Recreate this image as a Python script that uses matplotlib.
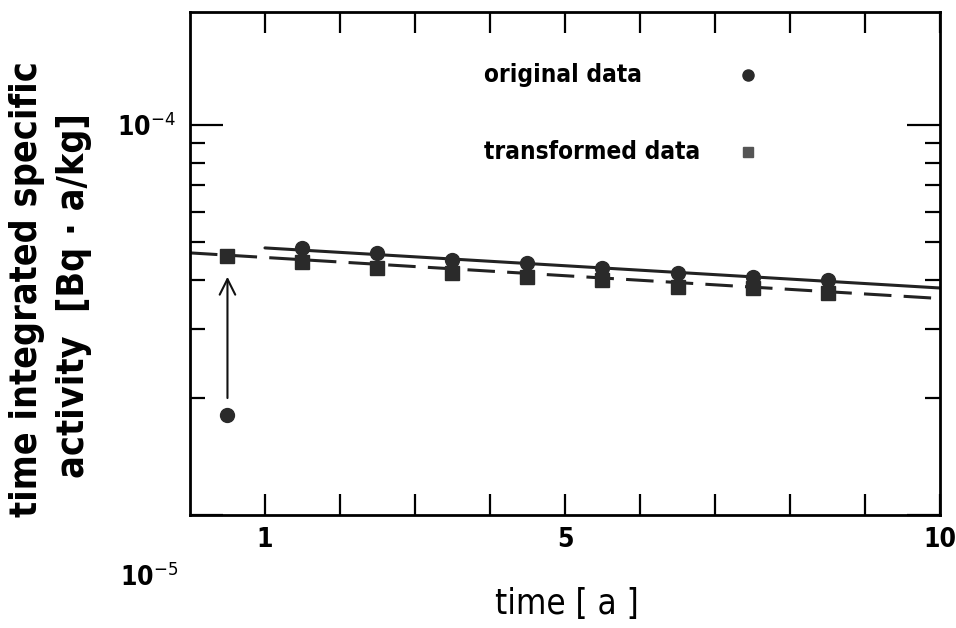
import matplotlib
matplotlib.use("Agg")
import matplotlib.pyplot as plt
from matplotlib.ticker import FixedLocator, NullFormatter, FixedFormatter

plt.rcParams['font.family'] = ['DejaVu Sans']
plt.rcParams['font.stretch'] = 'condensed'
plt.rcParams['mathtext.fontset'] = 'dejavusans'

# data
x_orig = [0.5, 1.5, 2.5, 3.5, 4.5, 5.5, 6.5, 7.5, 8.5]
y_orig = [1.80e-5, 4.84e-5, 4.70e-5, 4.51e-5, 4.43e-5, 4.30e-5, 4.17e-5, 4.07e-5, 4.01e-5]
x_trans = [0.5, 1.5, 2.5, 3.5, 4.5, 5.5, 6.5, 7.5, 8.5]
y_trans = [4.61e-5, 4.46e-5, 4.30e-5, 4.17e-5, 4.07e-5, 4.01e-5, 3.85e-5, 3.82e-5, 3.71e-5]
fit_orig_x = [1.0, 10.0]
fit_orig_y = [4.84e-5, 3.82e-5]
fit_trans_x = [0.0, 10.0]
fit_trans_y = [4.70e-5, 3.59e-5]
xtick_labels = ['1', '5', '10']

fig = plt.figure(figsize=(9.56, 6.28), dpi=100)
ax = fig.add_axes([0.1987, 0.180, 0.7846, 0.801])
ax.set_yscale('log')
ax.set_xlim(0, 10)
ax.set_ylim(1e-5, 1.95e-4)

ax.plot(fit_orig_x, fit_orig_y, color='#222222', lw=2.2, solid_capstyle='round')
ax.plot(fit_trans_x, fit_trans_y, color='#222222', lw=2.2, dashes=(9, 4))

ax.plot(x_orig, y_orig, 'o', color='#2a2a2a', ms=10)
ax.plot(x_trans, y_trans, 's', color='#2a2a2a', ms=9.5)

# arrow from original to transformed first point
ax.annotate('', xy=(x_trans[0], y_trans[0] * 0.90), xytext=(x_orig[0], y_orig[0] * 1.09),
            arrowprops=dict(arrowstyle='->', color='#111111', lw=1.5, mutation_scale=28))

# legend (manual)
ax.text(3.92, 1.34e-4, 'original data', fontsize=17.5, fontweight='bold', va='center', ha='left')
ax.plot([7.44], [1.34e-4], 'o', color='#2a2a2a', ms=8)
ax.text(3.92, 8.55e-5, 'transformed data', fontsize=17.5, fontweight='bold', va='center', ha='left')
ax.plot([7.44], [8.55e-5], 's', color='#555555', ms=7)

# ticks
ax.xaxis.set_major_locator(FixedLocator([1, 5, 10]))
ax.xaxis.set_major_formatter(FixedFormatter(xtick_labels))
ax.xaxis.set_minor_locator(FixedLocator([2, 3, 4, 6, 7, 8, 9]))
ax.tick_params(axis='x', which='both', direction='in', top=True, bottom=True,
               length=15, width=1.6, labelsize=19, pad=9)
ax.yaxis.set_major_locator(FixedLocator([1e-5, 1e-4]))
ax.yaxis.set_major_formatter(FixedFormatter(['', r'10$^{-4}$']))
ax.yaxis.set_minor_locator(FixedLocator([k * 1e-5 for k in range(2, 10)]))
ax.yaxis.set_minor_formatter(NullFormatter())
ax.tick_params(axis='y', which='major', direction='in', left=True, right=True,
               length=24, width=1.6, labelsize=19, pad=10)
ax.tick_params(axis='y', which='minor', direction='in', left=True, right=True,
               length=11, width=1.6)
for lab in ax.get_xticklabels() + ax.get_yticklabels():
    lab.set_fontweight('bold')

# lower decade label, drawn slightly below the axis corner as in the original
fig.text(0.186, 1 - 578 / 628, r'10$^{-5}$', fontsize=19, fontweight='bold',
         ha='right', va='center')

for s in ax.spines.values():
    s.set_linewidth(2)

fig.text(0.593, 1 - 604 / 628, 'time [ a ]', fontsize=25, ha='center', va='center')
fig.text(0.028, 0.54, 'time integrated specific', rotation=90, fontsize=27,
         fontweight='bold', ha='center', va='center')
fig.text(0.077, 0.53, 'activity  [Bq · a/kg]', rotation=90, fontsize=27,
         fontweight='bold', ha='center', va='center')

fig.savefig('out.png', dpi=100)
